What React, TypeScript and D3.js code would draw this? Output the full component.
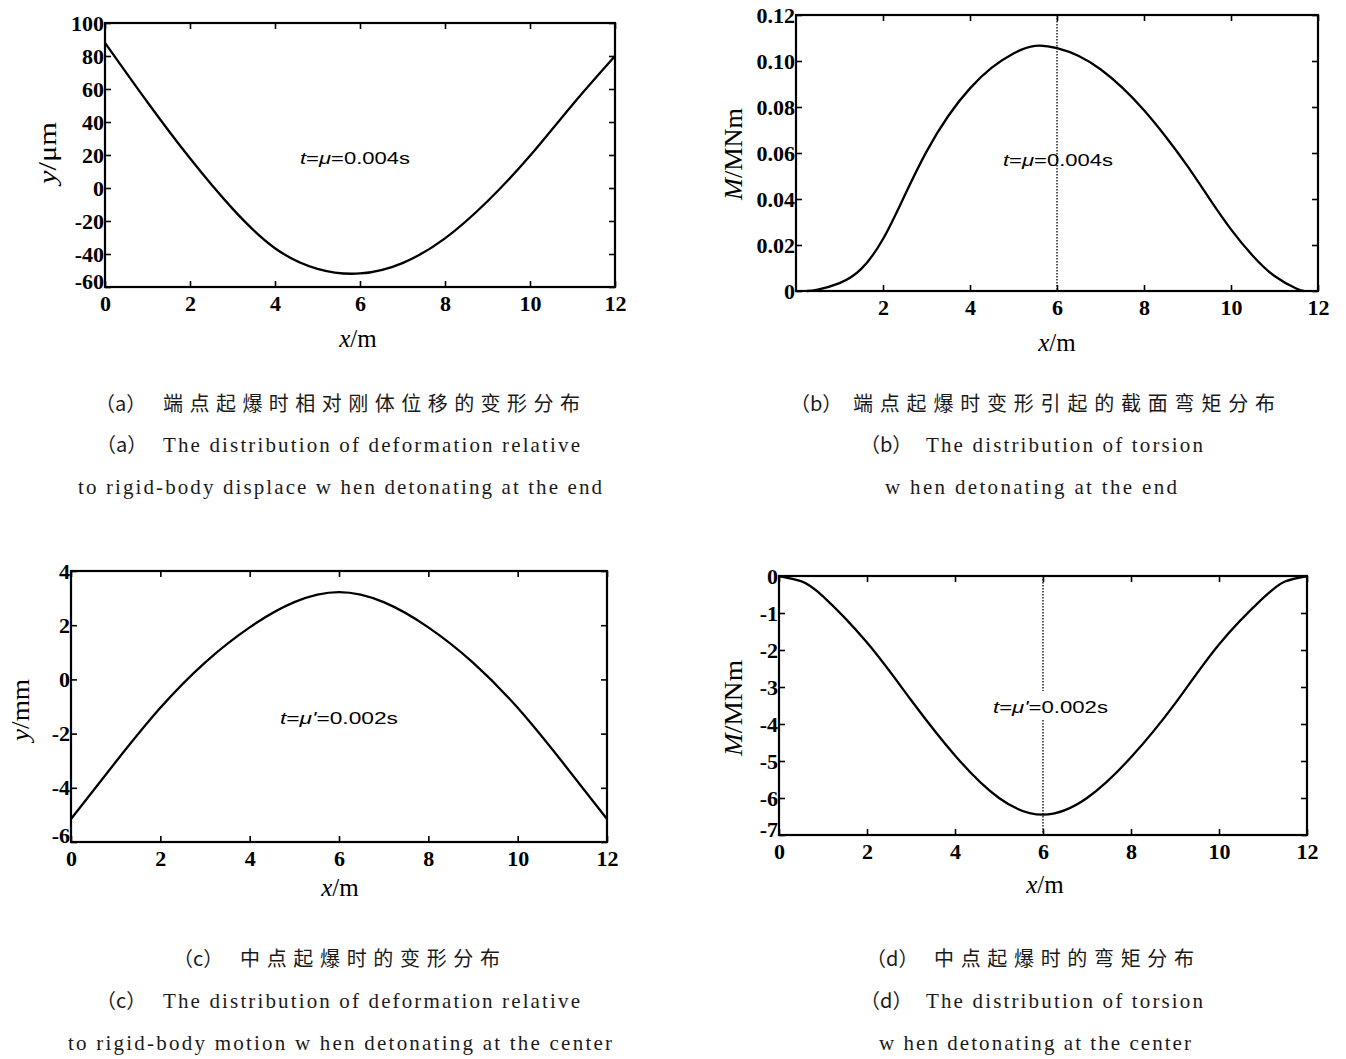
import React, { useEffect, useRef } from 'react';
import * as d3 from 'd3';

// (a) deformation relative to rigid-body displacement, end detonation, y in µm
const xA = [0, 1, 2, 3, 4, 5, 6, 7, 8, 9, 10, 11, 12];
const yA = [88, 52, 18, -12.5, -36.5, -49, -51.8, -45.5, -30.5, -8, 19.5, 50.5, 80];
// (b) bending moment, end detonation, M in MNm
const xB = [0.25, 0.5, 1, 1.5, 2, 2.5, 3, 3.5, 4, 4.5, 5, 5.5, 6, 6.5, 7, 7.5, 8, 8.5, 9, 9.5, 10, 10.5, 11, 11.5, 11.68];
const yB = [0, 0.0006, 0.0034, 0.0096, 0.0226, 0.0416, 0.0606, 0.0761, 0.0881, 0.0971, 0.1033, 0.1066, 0.1056, 0.1022,
  0.0964, 0.0884, 0.0786, 0.0671, 0.0543, 0.0403, 0.0268, 0.0153, 0.0065, 0.0011, 0];
// (c) deformation, center detonation, y in mm
const xC = [0, 1, 2, 3, 4, 5, 6, 7, 8, 9, 10, 11, 12];
const yC = [-5.15, -3.05, -1.05, 0.62, 1.92, 2.85, 3.22, 2.85, 1.92, 0.62, -1.05, -3.05, -5.15];
// (d) bending moment, center detonation
const xD = [0, 0.5, 1, 2, 3, 4, 5, 6, 7, 8, 9, 10, 11, 11.5, 12];
const yD = [0, -0.14, -0.55, -1.8, -3.35, -4.85, -6.0, -6.45, -6.0, -4.9, -3.45, -1.85, -0.6, -0.15, 0];

const xTicksAll = [0, 2, 4, 6, 8, 10, 12];
const xTicksNoZero = [2, 4, 6, 8, 10, 12];
const yTicksA = [-60, -40, -20, 0, 20, 40, 60, 80, 100];
const yTicksB = [0, 0.02, 0.04, 0.06, 0.08, 0.1, 0.12];
const yTicksC = [-6, -4, -2, 0, 2, 4];
const yTicksD = [-7, -6, -5, -4, -3, -2, -1, 0];

const SERIF = '"Liberation Serif", "Times New Roman", serif';
const SANS = '"Liberation Sans", Arial, sans-serif';
const CJK = '"Noto Sans CJK SC", sans-serif';

type Caption = { x: number; y: number; w?: number; text: string; cjk?: boolean };

const panels = [
  {
    box: { l: 105, r: 615, t: 23, b: 287 },
    xs: xA, ys: yA, yDomain: [-60, 100], yTicks: yTicksA, xTicks: xTicksAll,
    yFmt: (v: number) => String(v), liftLowest: 6,
    yVar: 'y', yUnit: '/μm', yLab: { x: 47, y: 153, w: 62 }, xLab: { x: 358, y: 347 },
    ann: { x: 300, y: 164, w: 110, mu: 'μ', val: '=0.004s' }, dotted: false, annBg: false,
  },
  {
    box: { l: 796, r: 1318, t: 15, b: 291 },
    xs: xB, ys: yB, yDomain: [0, 0.12], yTicks: yTicksB, xTicks: xTicksNoZero,
    yFmt: (v: number) => (v === 0 ? '0' : d3.format('.2f')(v)), liftLowest: 0,
    yVar: 'M', yUnit: '/MNm', yLab: { x: 733, y: 154, w: 92 }, xLab: { x: 1057, y: 351 },
    ann: { x: 1003, y: 166, w: 110, mu: 'μ', val: '=0.004s' }, dotted: true, annBg: false,
  },
  {
    box: { l: 71, r: 607, t: 571, b: 842 },
    xs: xC, ys: yC, yDomain: [-6, 4], yTicks: yTicksC, xTicks: xTicksAll,
    yFmt: (v: number) => String(v), liftLowest: 7,
    yVar: 'y', yUnit: '/mm', yLab: { x: 20, y: 710, w: 62 }, xLab: { x: 340, y: 896 },
    ann: { x: 280, y: 724, w: 118, mu: "μ'", val: '=0.002s' }, dotted: false, annBg: false,
  },
  {
    box: { l: 779, r: 1307, t: 576, b: 835 },
    xs: xD, ys: yD, yDomain: [-7, 0], yTicks: yTicksD, xTicks: xTicksAll,
    yFmt: (v: number) => String(v), liftLowest: 6,
    yVar: 'M', yUnit: '/MNm', yLab: { x: 733, y: 708, w: 96 }, xLab: { x: 1045, y: 893 },
    ann: { x: 993, y: 713, w: 115, mu: "μ'", val: '=0.002s' }, dotted: true, annBg: true,
  },
];

const captions: Caption[] = [
  { x: 95, y: 411, text: '（a）', cjk: true },
  { x: 163, y: 411, w: 417, text: '端点起爆时相对刚体位移的变形分布', cjk: true },
  { x: 96, y: 452, text: '（a）', cjk: true },
  { x: 163, y: 452, w: 417, text: 'The distribution of deformation relative' },
  { x: 78, y: 494, w: 524, text: 'to rigid-body displace w hen detonating at the end' },
  { x: 790, y: 411, text: '（b）', cjk: true },
  { x: 853, y: 411, w: 422, text: '端点起爆时变形引起的截面弯矩分布', cjk: true },
  { x: 860, y: 452, text: '（b）', cjk: true },
  { x: 926, y: 452, w: 277, text: 'The distribution of torsion' },
  { x: 885, y: 494, w: 292, text: 'w hen detonating at the end' },
  { x: 173, y: 966, text: '（c）', cjk: true },
  { x: 240, y: 966, w: 260, text: '中点起爆时的变形分布', cjk: true },
  { x: 96, y: 1008, text: '（c）', cjk: true },
  { x: 163, y: 1008, w: 417, text: 'The distribution of deformation relative' },
  { x: 68, y: 1050, w: 544, text: 'to rigid-body motion w hen detonating at the center' },
  { x: 866, y: 966, text: '（d）', cjk: true },
  { x: 934, y: 966, w: 260, text: '中点起爆时的弯矩分布', cjk: true },
  { x: 860, y: 1008, text: '（d）', cjk: true },
  { x: 926, y: 1008, w: 277, text: 'The distribution of torsion' },
  { x: 879, y: 1050, w: 312, text: 'w hen detonating at the center' },
];

export default function App() {
  const ref = useRef<SVGSVGElement>(null);

  useEffect(() => {
    const svg = d3.select(ref.current);
    svg.selectAll('*').remove();

    for (const p of panels) {
      const { l, r, t, b } = p.box;
      const x = d3.scaleLinear().domain([0, 12]).range([l, r]);
      const y = d3.scaleLinear().domain(p.yDomain).range([b, t]);
      const g = svg.append('g');

      // inward ticks on all four sides
      const bottom = g.append('g').attr('transform', `translate(0,${b})`)
        .call(d3.axisBottom(x).tickValues(p.xTicks).tickSizeInner(-6).tickSizeOuter(0).tickPadding(16).tickFormat(d3.format('d') as any));
      const left = g.append('g').attr('transform', `translate(${l},0)`)
        .call(d3.axisLeft(y).tickValues(p.yTicks).tickSizeInner(-6).tickSizeOuter(0).tickPadding(1).tickFormat(p.yFmt as any));
      g.append('g').attr('transform', `translate(0,${t})`)
        .call(d3.axisTop(x).tickValues(p.xTicks).tickSizeInner(-6).tickSizeOuter(0).tickFormat(() => ''));
      g.append('g').attr('transform', `translate(${r},0)`)
        .call(d3.axisRight(y).tickValues(p.yTicks).tickSizeInner(-6).tickSizeOuter(0).tickFormat(() => ''));
      g.selectAll('.domain').remove();
      g.selectAll('.tick line').attr('stroke', '#000').attr('stroke-width', 1.6);
      for (const ax of [bottom, left]) {
        ax.selectAll('text')
          .attr('font-family', SERIF).attr('font-weight', 'bold')
          .attr('font-size', 22).attr('fill', '#000');
      }
      bottom.selectAll('text').attr('dy', '0.35em');
      // lowest y label sits a little above the corner, as in the original
      const lo = d3.min(p.yTicks) as number;
      left.selectAll<SVGGElement, number>('.tick')
        .filter((d) => d === lo)
        .select('text')
        .attr('y', -p.liftLowest);

      g.append('rect')
        .attr('x', l).attr('y', t).attr('width', r - l).attr('height', b - t)
        .attr('fill', 'none').attr('stroke', '#000').attr('stroke-width', 2.2);

      if (p.dotted) {
        g.append('line')
          .attr('x1', x(6)).attr('x2', x(6)).attr('y1', t).attr('y2', b)
          .attr('stroke', '#000').attr('stroke-width', 1.3).attr('stroke-dasharray', '1.5,1.5');
      }

      const line = d3.line<number>()
        .x((_, i) => x(p.xs[i]))
        .y((d) => y(d))
        .curve(d3.curveNatural);
      g.append('path')
        .attr('d', line(p.ys))
        .attr('fill', 'none').attr('stroke', '#000').attr('stroke-width', 2.3);

      // annotation
      if (p.annBg) {
        g.append('rect').attr('x', p.ann.x + 30).attr('y', p.ann.y - 22)
          .attr('width', 30).attr('height', 28).attr('fill', '#fff');
      }
      const ann = g.append('text')
        .attr('x', p.ann.x).attr('y', p.ann.y)
        .attr('font-family', SANS).attr('font-size', 17).attr('fill', '#000')
        .attr('textLength', p.ann.w).attr('lengthAdjust', 'spacingAndGlyphs');
      ann.append('tspan').attr('font-style', 'italic').text('t');
      ann.append('tspan').text('=');
      ann.append('tspan').attr('font-style', 'italic').text(p.ann.mu);
      ann.append('tspan').text(p.ann.val);

      // axis titles
      const xt = g.append('text')
        .attr('x', p.xLab.x).attr('y', p.xLab.y).attr('text-anchor', 'middle')
        .attr('font-family', SERIF).attr('font-size', 25).attr('fill', '#000');
      xt.append('tspan').attr('font-style', 'italic').text('x');
      xt.append('tspan').text('/m');

      const yt = g.append('text')
        .attr('transform', `translate(${p.yLab.x},${p.yLab.y}) rotate(-90)`)
        .attr('x', -p.yLab.w / 2).attr('dy', '0.35em')
        .attr('textLength', p.yLab.w).attr('lengthAdjust', 'spacingAndGlyphs')
        .attr('font-family', SERIF).attr('font-size', 25).attr('fill', '#000');
      yt.append('tspan').attr('font-style', 'italic').text(p.yVar);
      yt.append('tspan').text(p.yUnit);
    }

    const cap = svg.append('g');
    for (const c of captions) {
      const el = cap.append('text')
        .attr('x', c.x).attr('y', c.y)
        .attr('font-family', c.cjk ? CJK : SERIF)
        .attr('font-size', c.cjk ? 20 : 21)
        .attr('fill', '#1a1a1a')
        .text(c.text);
      if (c.w) el.attr('textLength', c.w).attr('lengthAdjust', 'spacing');
    }
  }, []);

  return (
    <svg
      ref={ref}
      width={1346}
      height={1059}
      style={{ position: 'absolute', left: 0, top: 0, background: '#fff' }}
    />
  );
}
